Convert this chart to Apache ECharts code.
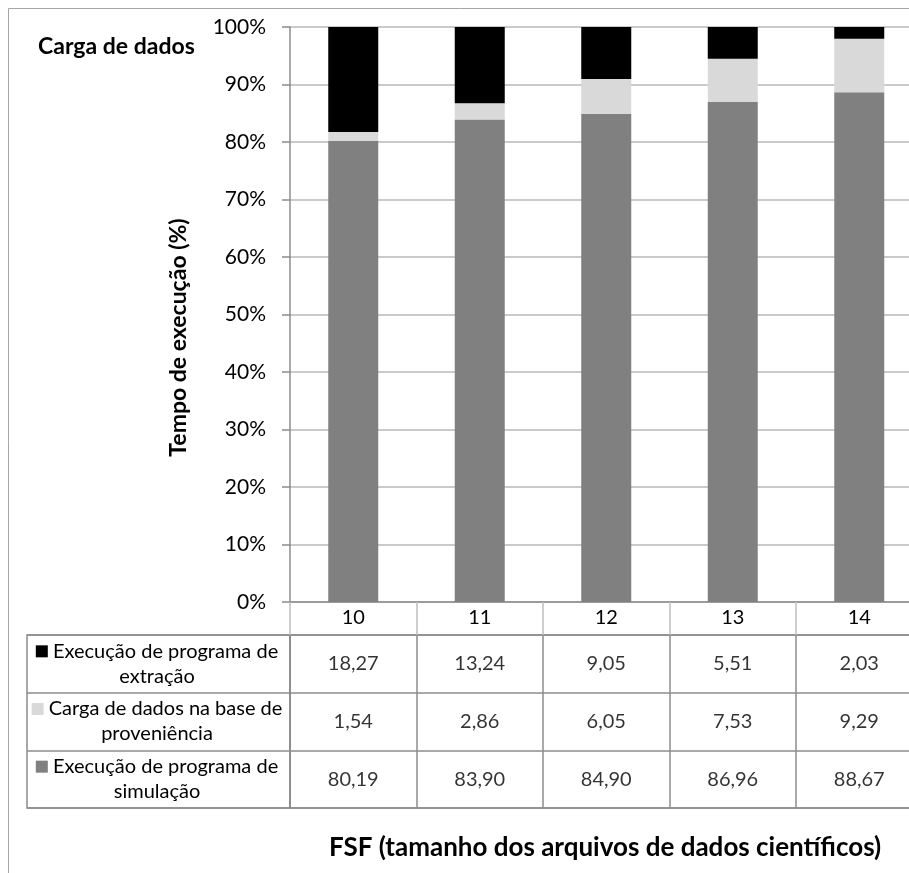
<!DOCTYPE html>
<html><head><meta charset="utf-8">
<script src="https://cdn.jsdelivr.net/npm/echarts@6/dist/echarts.min.js"></script>
<style>html,body{margin:0;padding:0;background:#fff}#c{width:909px;height:873px}</style>
</head><body><div id="c"></div>
<script>
var categories = ['10', '11', '12', '13', '14'];
var extracao = [18.27, 13.24, 9.05, 5.51, 2.03];
var carga = [1.54, 2.86, 6.05, 7.53, 9.29];
var simulacao = [80.19, 83.90, 84.90, 86.96, 88.67];
var rowNames = ['Execução de programa de\nextração', 'Carga de dados na base de\nproveniência', 'Execução de programa de\nsimulação'];
var rowColors = ['#000000', '#d9d9d9', '#808080'];
var yTicks = [0, 10, 20, 30, 40, 50, 60, 70, 80, 90, 100];

var FONT = 'Lato';
var fmt = function (v) { return v.toFixed(2).replace('.', ','); };
var rowData = [extracao, carga, simulacao];

var chart = echarts.init(document.getElementById('c'));
var tableSeries = rowData.map(function (arr, r) {
  return {
    type: 'scatter', xAxisIndex: 1, yAxisIndex: 1, symbolSize: 1,
    itemStyle: { color: 'rgba(0,0,0,0)' },
    label: { show: true, position: 'inside', color: '#000', fontFamily: FONT, fontSize: 20,
      formatter: function (p) { return fmt(p.value[2]); } },
    data: arr.map(function (v, i) { return [categories[i], rowNames[r], v]; })
  };
});

var rich = { t: { fontFamily: FONT, fontSize: 20, color: '#000', lineHeight: 25, align: 'center' } };
rowColors.forEach(function (c, i) { rich['s' + i] = { width: 12, height: 12, backgroundColor: c }; });

chart.setOption({
  animation: false,
  title: { text: 'Carga de dados', left: 33, top: 30, textStyle: { fontFamily: FONT, fontSize: 23, fontWeight: 'bold', color: '#000' } },
  graphic: [
    { type: 'rect', shape: { x: 8.5, y: 8.5, width: 1000, height: 1000 }, style: { fill: 'none', stroke: '#a6a6a6', lineWidth: 1 }, silent: true },
    { type: 'text', x: 605, y: 835, style: { text: 'FSF (tamanho dos arquivos de dados científicos)', textAlign: 'center', fontFamily: FONT, fontSize: 26, fontWeight: 'bold', fill: '#000' } }
  ],
  grid: [
    { left: 290, top: 27, width: 632.5, height: 575, outerBoundsMode: 'none' },
    { left: 290, top: 635, width: 632.5, height: 173, show: true, borderColor: '#8c8c8c', borderWidth: 1.5, outerBoundsMode: 'none' },
    { left: 27, top: 635, width: 263, height: 173, show: true, borderColor: '#8c8c8c', borderWidth: 1.5, outerBoundsMode: 'none' }
  ],
  xAxis: [
    { type: 'category', gridIndex: 0, data: categories,
      axisLine: { lineStyle: { color: '#8c8c8c', width: 1.5 } },
      axisTick: { show: true, interval: 0, length: 33, lineStyle: { color: '#bfbfbf', width: 1.5 } },
      axisLabel: { margin: 6, color: '#000', fontFamily: FONT, fontSize: 20 } },
    { type: 'category', gridIndex: 1, data: categories,
      axisLine: { show: false }, axisTick: { show: false }, axisLabel: { show: false },
      splitLine: { show: true, interval: 0, lineStyle: { color: '#8c8c8c', width: 1.5 } } },
    { type: 'category', gridIndex: 2, data: [''], show: false }
  ],
  yAxis: [
    { type: 'value', gridIndex: 0, min: 0, max: 100, interval: 10,
      name: 'Tempo de execução (%)', nameLocation: 'middle', nameGap: 100,
      nameTextStyle: { fontFamily: FONT, fontSize: 23, fontWeight: 'bold', color: '#000', padding: [0, 46, 0, 0] },
      axisLine: { show: true, lineStyle: { color: '#8c8c8c', width: 1.5 } },
      axisTick: { show: true, length: 8, lineStyle: { color: '#8c8c8c', width: 1.5 } },
      axisLabel: { margin: 24, color: '#000', fontFamily: FONT, fontSize: 21, formatter: '{value}%' },
      splitLine: { show: true, lineStyle: { color: '#b8b8b8', width: 1.5 } } },
    { type: 'category', gridIndex: 1, data: rowNames, inverse: true,
      axisLine: { show: false }, axisTick: { show: false },
      splitLine: { show: true, interval: 0, lineStyle: { color: '#8c8c8c', width: 1.5 } },
      axisLabel: { margin: 133, align: 'center', interval: 0, rich: rich,
        formatter: function (v, i) { var l = v.split('\n'); return '{s' + i + '|}{t| ' + l[0] + '}\n{t|' + l[1] + '}'; } } },
    { type: 'category', gridIndex: 2, data: rowNames, inverse: true,
      axisLine: { show: false }, axisTick: { show: false }, axisLabel: { show: false },
      splitLine: { show: true, interval: 0, lineStyle: { color: '#8c8c8c', width: 1.5 } } }
  ],
  series: [
    { name: rowNames[2], type: 'bar', stack: 'a', barWidth: 50, data: simulacao, itemStyle: { color: rowColors[2] } },
    { name: rowNames[1], type: 'bar', stack: 'a', barWidth: 50, data: carga, itemStyle: { color: rowColors[1] } },
    { name: rowNames[0], type: 'bar', stack: 'a', barWidth: 50, data: extracao, itemStyle: { color: rowColors[0] } }
  ].concat(tableSeries)
});
</script></body></html>
